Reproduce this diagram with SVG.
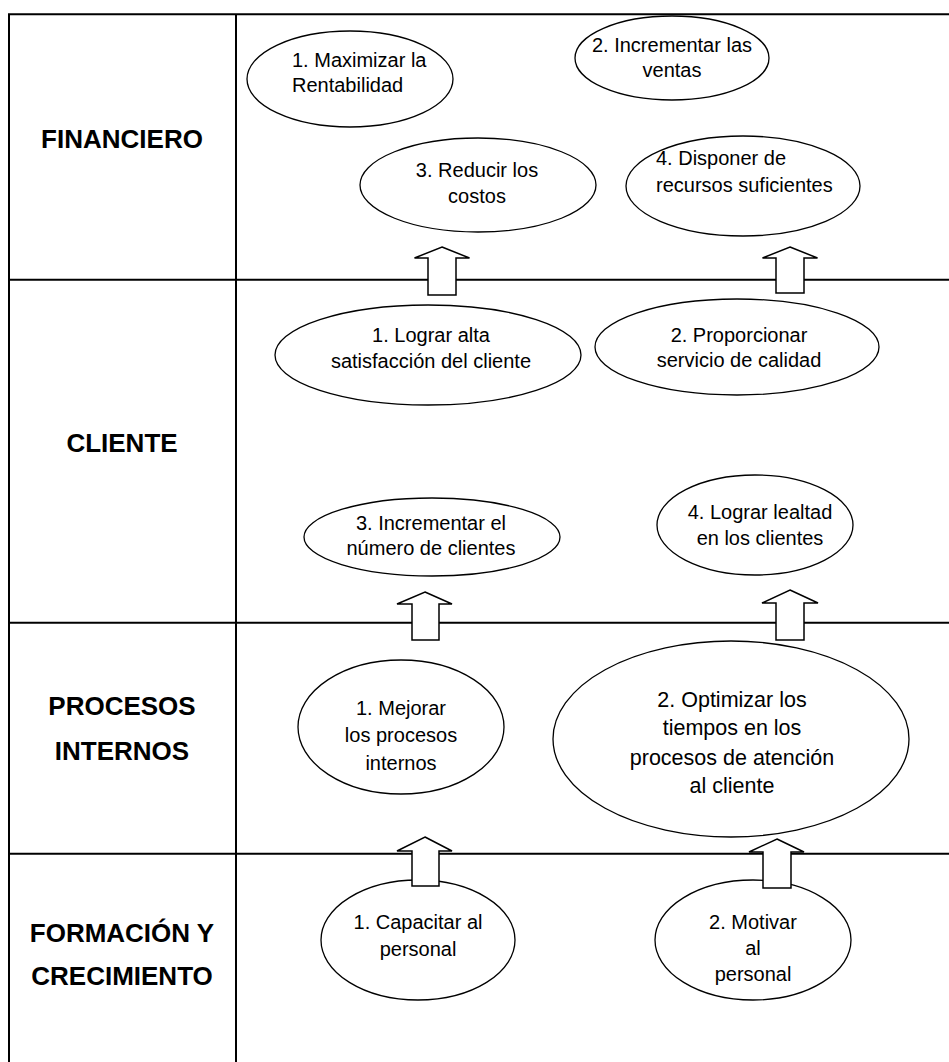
<svg xmlns="http://www.w3.org/2000/svg" width="949" height="1062" viewBox="0 0 949 1062">
  <style>
    .grid { stroke: #000; stroke-width: 2; fill: none; }
    .obj ellipse { fill: #fff; stroke: #000; stroke-width: 1.3; }
    .obj text { font-family: "Liberation Sans", Arial, sans-serif; font-size: 20px; fill: #000; text-anchor: middle; }
    .obj text.left { text-anchor: start; }
    .obj text.big { font-size: 21.5px; }
    .label text { font-family: "Liberation Sans", Arial, sans-serif; font-size: 26px; font-weight: bold; fill: #000; text-anchor: middle; }
    .arrow { fill: #fff; stroke: #000; stroke-width: 1.5; stroke-linejoin: miter; }
  </style>

  <rect x="0" y="0" width="949" height="1062" fill="#fff"/>

  <!-- table grid -->
  <g id="grid" class="grid">
    <line x1="8" y1="14.3" x2="949" y2="14.3"/>
    <line x1="9" y1="14.3" x2="9" y2="1062"/>
    <line x1="236" y1="14.3" x2="236" y2="1062"/>
    <line x1="9" y1="279.7" x2="949" y2="279.7"/>
    <line x1="9" y1="622.7" x2="949" y2="622.7"/>
    <line x1="9" y1="853.7" x2="949" y2="853.7"/>
  </g>

  <!-- perspective labels -->
  <g id="lbl-financiero" class="label"><text x="122" y="148">FINANCIERO</text></g>
  <g id="lbl-cliente" class="label"><text x="122" y="452">CLIENTE</text></g>
  <g id="lbl-procesos" class="label"><text x="122" y="715">PROCESOS</text><text x="122" y="760">INTERNOS</text></g>
  <g id="lbl-formacion" class="label"><text x="122" y="942">FORMACIÓN Y</text><text x="122" y="985">CRECIMIENTO</text></g>

  <!-- financial objectives -->
  <g id="f1" class="obj">
    <ellipse cx="350" cy="79" rx="103" ry="48"/>
    <text class="left" x="292" y="67">1. Maximizar la</text>
    <text class="left" x="292" y="92">Rentabilidad</text>
  </g>
  <g id="f2" class="obj">
    <ellipse cx="672" cy="58" rx="97" ry="42"/>
    <text x="672" y="52">2. Incrementar las</text>
    <text x="672" y="77">ventas</text>
  </g>
  <g id="f3" class="obj">
    <ellipse cx="478" cy="185" rx="118" ry="47"/>
    <text x="477" y="177">3. Reducir los</text>
    <text x="477" y="203">costos</text>
  </g>
  <g id="f4" class="obj">
    <ellipse cx="743" cy="186" rx="117" ry="50"/>
    <text class="left" x="656" y="165">4. Disponer de</text>
    <text class="left" x="656" y="192">recursos suficientes</text>
  </g>

  <!-- customer objectives -->
  <g id="c1" class="obj">
    <ellipse cx="428" cy="355" rx="153" ry="50"/>
    <text x="431" y="342">1. Lograr alta</text>
    <text x="431" y="368">satisfacción del cliente</text>
  </g>
  <g id="c2" class="obj">
    <ellipse cx="737" cy="347" rx="142" ry="48"/>
    <text x="739" y="342">2. Proporcionar</text>
    <text x="739" y="367">servicio de calidad</text>
  </g>
  <g id="c3" class="obj">
    <ellipse cx="432" cy="537" rx="128" ry="39"/>
    <text x="431" y="530">3. Incrementar el</text>
    <text x="431" y="555">número de clientes</text>
  </g>
  <g id="c4" class="obj">
    <ellipse cx="755" cy="525" rx="98" ry="50"/>
    <text x="760" y="519">4. Lograr lealtad</text>
    <text x="760" y="545">en los clientes</text>
  </g>

  <!-- internal process objectives -->
  <g id="p1" class="obj">
    <ellipse cx="401" cy="727" rx="103" ry="67"/>
    <text x="401" y="715">1. Mejorar</text>
    <text x="401" y="742">los procesos</text>
    <text x="401" y="770">internos</text>
  </g>
  <g id="p2" class="obj">
    <ellipse cx="731" cy="739" rx="178" ry="98"/>
    <text class="big" x="732" y="707">2. Optimizar los</text>
    <text class="big" x="732" y="735">tiempos en los</text>
    <text class="big" x="732" y="765">procesos de atención</text>
    <text class="big" x="732" y="793">al cliente</text>
  </g>

  <!-- learning and growth objectives -->
  <g id="g1" class="obj">
    <ellipse cx="418" cy="940" rx="97" ry="60"/>
    <text x="418" y="929">1. Capacitar al</text>
    <text x="418" y="956">personal</text>
  </g>
  <g id="g2" class="obj">
    <ellipse cx="753" cy="940" rx="98" ry="60"/>
    <text x="753" y="929">2. Motivar</text>
    <text x="753" y="955">al</text>
    <text x="753" y="981">personal</text>
  </g>

  <!-- block arrows between perspectives -->
  <g id="connectors">
    <polygon class="arrow" points="442,247 469.5,258 456,258 456,295 428,295 428,258 414.5,258"/>
    <polygon class="arrow" points="790,247 817.5,258 804,258 804,293 776,293 776,258 762.5,258"/>
    <polygon class="arrow" points="425,592 452,604 439,604 439,640 412,640 412,604 397,604"/>
    <polygon class="arrow" points="790,590 818,603 804,603 804,640 776,640 776,603 762,603"/>
    <polygon class="arrow" points="425,837 452,851 439,851 439,886 412,886 412,851 397,851"/>
    <polygon class="arrow" points="777,839 804,852 791,852 791,888 763,888 763,852 749,852"/>
  </g>
</svg>
